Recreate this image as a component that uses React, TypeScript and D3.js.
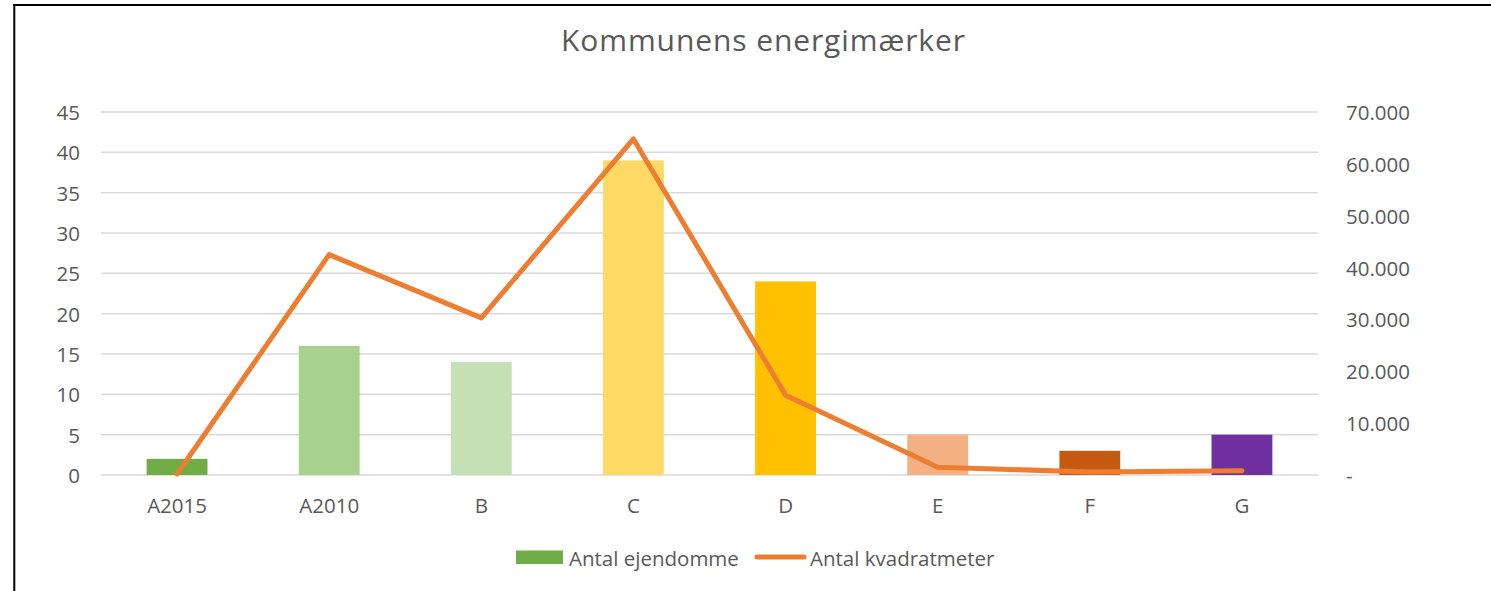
import React from "react";
import * as d3 from "d3";

const categories = ["A2015", "A2010", "B", "C", "D", "E", "F", "G"];
const ejendomme = [2, 16, 14, 39, 24, 5, 3, 5];
const kvadratmeter = [200, 42500, 30300, 64800, 15400, 1500, 600, 800];
const barColors = ["#70AD47", "#A9D18E", "#C5E0B4", "#FFD966", "#FFC000", "#F4B183", "#C55A11", "#7030A0"];
const leftTicks = [0, 5, 10, 15, 20, 25, 30, 35, 40, 45];
const rightTicks = [0, 10000, 20000, 30000, 40000, 50000, 60000, 70000];

const W = 1491;
const H = 591;
const margin = { top: 112, right: 173, bottom: 116, left: 101 };
const font = "'Open Sans', sans-serif";
const textColor = "#595959";
const tickSize = 20.5;

const fmtRight = (v: number) =>
  v === 0 ? "-" : d3.format(",")(v).replace(/,/g, ".");

export default function App() {
  const x = d3
    .scaleBand()
    .domain(categories)
    .range([margin.left, W - margin.right])
    .paddingInner(0.6)
    .paddingOuter(0.3);
  const xc = (c: string) => (x(c) ?? 0) + x.bandwidth() / 2;
  const yL = d3.scaleLinear().domain([0, 45]).range([H - margin.bottom, margin.top]);
  const yR = d3.scaleLinear().domain([0, 70000]).range([H - margin.bottom, margin.top]);

  const line = d3
    .line<number>()
    .x((_, i) => xc(categories[i]))
    .y((d) => yR(d));

  return (
    <svg
      width={W}
      height={H}
      style={{ position: "absolute", left: 0, top: 0, background: "#fff" }}
      fontFamily={font}
    >
      <line x1={14.3} y1={4} x2={14.3} y2={H} stroke="#000" strokeWidth={2} />
      <line x1={13} y1={5} x2={W} y2={5} stroke="#000" strokeWidth={2} />

      <text x={763.5} y={51} textAnchor="middle" fontSize={30} letterSpacing={0.9} fill={textColor}>
        Kommunens energimærker
      </text>

      {leftTicks.map((t) => (
        <g key={t}>
          <line
            x1={margin.left}
            x2={W - margin.right}
            y1={yL(t)}
            y2={yL(t)}
            stroke="#d9d9d9"
            strokeWidth={1.5}
          />
          <text x={80} y={yL(t) + 8} textAnchor="end" fontSize={tickSize} fill={textColor}>
            {t}
          </text>
        </g>
      ))}

      {rightTicks.map((t) => (
        <text key={t} x={1346} y={yR(t) + 8} fontSize={tickSize} fill={textColor}>
          {fmtRight(t)}
        </text>
      ))}

      {categories.map((c, i) => (
        <g key={c}>
          <rect
            x={x(c)}
            y={yL(ejendomme[i])}
            width={x.bandwidth()}
            height={yL(0) - yL(ejendomme[i])}
            fill={barColors[i]}
          />
          <text x={xc(c)} y={513} textAnchor="middle" fontSize={tickSize} fill={textColor}>
            {c}
          </text>
        </g>
      ))}

      <path
        d={line(kvadratmeter) ?? ""}
        fill="none"
        stroke="#ED7D31"
        strokeWidth={5}
        strokeLinecap="round"
        strokeLinejoin="round"
      />

      <rect x={516} y={550.5} width={47} height={13.5} fill="#70AD47" />
      <text x={569} y={566} fontSize={tickSize} fill={textColor}>
        Antal ejendomme
      </text>
      <line x1={757} x2={804} y1={557} y2={557} stroke="#ED7D31" strokeWidth={5} strokeLinecap="round" />
      <text x={810} y={566} fontSize={tickSize} fill={textColor}>
        Antal kvadratmeter
      </text>
    </svg>
  );
}
